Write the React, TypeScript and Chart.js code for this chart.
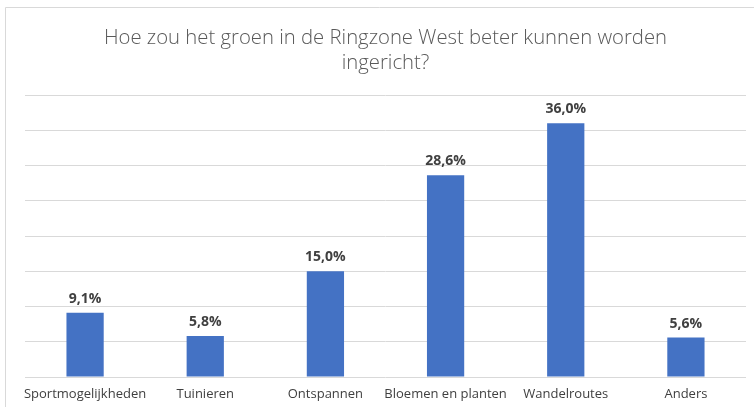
import React, { useEffect, useRef } from "react";
import { Chart, registerables } from "chart.js";

Chart.register(...registerables);

const titleLines = ["Hoe zou het groen in de Ringzone West beter kunnen worden", "ingericht?"];
const categories = ["Sportmogelijkheden", "Tuinieren", "Ontspannen", "Bloemen en planten", "Wandelroutes", "Anders"];
const values = [9.1, 5.8, 15.0, 28.6, 36.0, 5.6];
const yMax = 40;
const yStep = 5;

const fmt = (v: number) => v.toFixed(1).replace(".", ",") + "%";

const decorPlugin = {
  id: "decor",
  beforeDraw(chart: any) {
    const ctx = chart.ctx;
    ctx.save();
    ctx.strokeStyle = "#d9d9d9";
    ctx.lineWidth = 1;
    ctx.beginPath();
    ctx.moveTo(5.5, chart.height);
    ctx.lineTo(5.5, 7.5);
    ctx.lineTo(chart.width, 7.5);
    ctx.stroke();
    ctx.fillStyle = "#595959";
    ctx.font = "300 20.3px 'Open Sans', sans-serif";
    ctx.textAlign = "center";
    ctx.textBaseline = "middle";
    const cx = (chart.chartArea.left + chart.chartArea.right) / 2;
    ctx.fillText(titleLines[0], cx, 38);
    ctx.fillText(titleLines[1], cx, 63);
    ctx.restore();
  },
  afterDatasetsDraw(chart: any) {
    const ctx = chart.ctx;
    const meta = chart.getDatasetMeta(0);
    ctx.save();
    ctx.fillStyle = "#404040";
    ctx.font = "bold 14px 'Open Sans', sans-serif";
    ctx.textAlign = "center";
    ctx.textBaseline = "bottom";
    meta.data.forEach((bar: any, i: number) => {
      ctx.fillText(fmt(values[i]), bar.x, bar.y - 7);
    });
    ctx.restore();
  },
};

export default function App() {
  const ref = useRef<HTMLCanvasElement>(null);
  useEffect(() => {
    if (!ref.current) return;
    const chart = new Chart(ref.current, {
      type: "bar",
      data: {
        labels: categories,
        datasets: [
          {
            data: values,
            backgroundColor: "#4472c4",
            borderWidth: 0,
            categoryPercentage: 1,
            barPercentage: 0.31,
          },
        ],
      },
      options: {
        animation: false,
        responsive: false,
        events: [],
        layout: { padding: { top: 95, left: 25, right: 8, bottom: 0 } },
        plugins: { legend: { display: false }, title: { display: false }, tooltip: { enabled: false } },
        scales: {
          x: {
            grid: { display: false, drawTicks: false },
            border: { display: false },
            ticks: { color: "#404040", font: { family: "'Open Sans', sans-serif", size: 13 }, padding: 9, maxRotation: 0, autoSkip: false },
            afterFit: (s: any) => { s.height = 30; },
          },
          y: {
            min: 0,
            max: yMax,
            ticks: { display: false, stepSize: yStep },
            grid: { color: "#d9d9d9", drawTicks: false, lineWidth: 1 },
            border: { display: false },
            afterFit: (s: any) => { s.width = 0; },
          },
        },
      },
      plugins: [decorPlugin],
    });
    return () => chart.destroy();
  }, []);
  return (
    <div style={{ position: "fixed", left: 0, top: 0, width: 754, height: 407, background: "#fff" }}>
      <canvas ref={ref} width={754} height={407} style={{ display: "block" }} />
    </div>
  );
}
